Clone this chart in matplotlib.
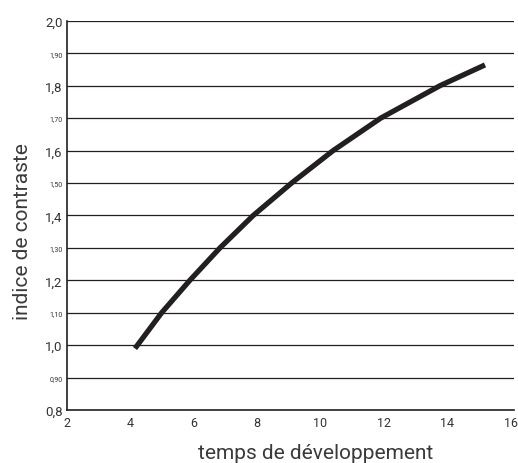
import matplotlib.pyplot as plt

plt.rcParams['font.family'] = ['Roboto', 'DejaVu Sans']

# curve
temps = [4.15, 4.99, 5.88, 6.83, 7.88, 9.09, 10.4, 11.9, 13.77, 15.19]
contraste = [0.99, 1.1, 1.2, 1.3, 1.4, 1.5, 1.6, 1.7, 1.8, 1.864]

major_y = [0.8, 1.0, 1.2, 1.4, 1.6, 1.8, 2.0]
major_lbl = ['0,8', '1,0', '1,2', '1,4', '1,6', '1,8', '2,0']
minor_y = [0.9, 1.1, 1.3, 1.5, 1.7, 1.9]
minor_lbl = ['0,90', '1,10', '1,30', '1,50', '1,70', '1,90']
x_ticks = [2, 4, 6, 8, 10, 12, 14, 16]

fig = plt.figure(figsize=(5.18, 4.64), dpi=100)
ax = fig.add_axes([0.129, 0.114, 0.863, 0.839])

for v in major_y[1:] + minor_y:
    ax.axhline(v, color='#231f20', lw=0.9, zorder=1)

ax.plot(temps, contraste, color='#231f20', lw=3.8, solid_capstyle='butt',
        solid_joinstyle='round', zorder=3)

ax.set_xlim(2, 16.1)
ax.set_ylim(0.8, 2.0)
ax.set_xticks(x_ticks)
ax.set_xticklabels([str(t) for t in x_ticks], fontsize=9, color='#333333')
ax.set_yticks(major_y)
ax.set_yticklabels(major_lbl, fontsize=9.5, color='#333333')
ax.set_yticks(minor_y, minor=True)
ax.set_yticklabels(minor_lbl, minor=True, fontsize=5, color='#333333')
ax.tick_params(axis='both', which='both', length=0, pad=3)
ax.tick_params(axis='x', pad=4)

for s in ['top', 'right']:
    ax.spines[s].set_visible(False)
for s in ['left', 'bottom']:
    ax.spines[s].set_color('#231f20')
    ax.spines[s].set_linewidth(1.2)

ax.set_xlabel('temps de développement', fontsize=15, color='#3a3a3a')
ax.set_ylabel('indice de contraste', fontsize=15, color='#3a3a3a')
ax.xaxis.set_label_coords(0.557, -0.085)
ax.yaxis.set_label_coords(-0.078, 0.46)

fig.savefig('out.png', dpi=100)
